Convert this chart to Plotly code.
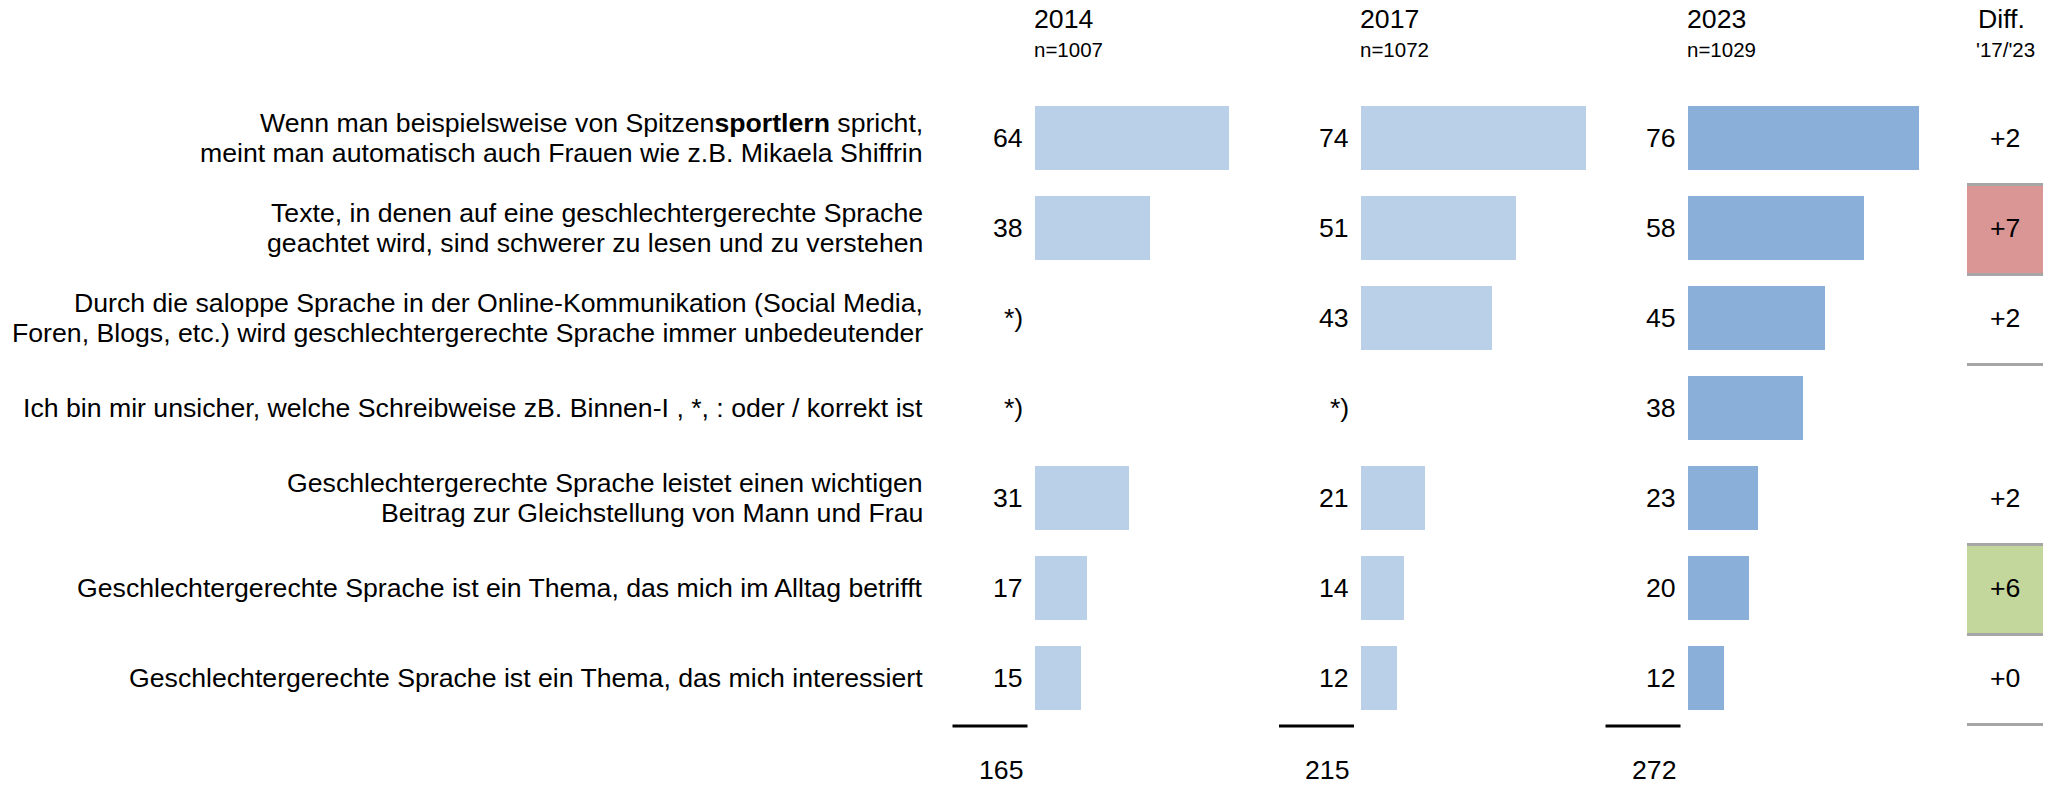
import plotly.graph_objects as go

# ---------------- data ----------------
labels = [
    "Wenn man beispielsweise von Spitzen<b>sportlern</b> spricht,<br>meint man automatisch auch Frauen wie z.B. Mikaela Shiffrin",
    "Texte, in denen auf eine geschlechtergerechte Sprache<br>geachtet wird, sind schwerer zu lesen und zu verstehen",
    "Durch die saloppe Sprache in der Online-Kommunikation (Social Media,<br>Foren, Blogs, etc.) wird geschlechtergerechte Sprache immer unbedeutender",
    "Ich bin mir unsicher, welche Schreibweise zB. Binnen-I , *, : oder / korrekt ist",
    "Geschlechtergerechte Sprache leistet einen wichtigen<br>Beitrag zur Gleichstellung von Mann und Frau",
    "Geschlechtergerechte Sprache ist ein Thema, das mich im Alltag betrifft",
    "Geschlechtergerechte Sprache ist ein Thema, das mich interessiert",
]
years = ["2014", "2017", "2023"]
sample_n = ["n=1007", "n=1072", "n=1029"]
v2014 = [64, 38, None, None, 31, 17, 15]
v2017 = [74, 51, 43, None, 21, 14, 12]
v2023 = [76, 58, 45, 38, 23, 20, 12]
totals = [165, 215, 272]
diff_text = ["+2", "+7", "+2", "", "+2", "+6", "+0"]
diff_fill = [None, "#D99694", None, None, None, "#C3D69B", None]
diff_lines = [0.5, 1.5, 2.5, 4.5, 5.5, 6.5]  # row boundaries with grey rules

# ---------------- layout constants ----------------
W, H = 2058, 785
FONT = "Liberation Sans, Arial, sans-serif"
FS = 26.67
FS_SMALL = 20.5
bar_starts = [1034.5, 1361.0, 1687.5]
px_per_unit = 3.036
axis_len = 100 * px_per_unit
row_top, row_pitch = 93, 90
n_rows = len(labels)
colors = ["#B9D0E8", "#B9D0E8", "#8AAFD8"]
series = [v2014, v2017, v2023]


def row_px(b):
    """pixel y of a row position b (row index, may be fractional)"""
    return row_top + row_pitch * (b + 0.5)


fig = go.Figure()
rows = list(range(n_rows))
for k, vals in enumerate(series):
    ax = "x" if k == 0 else f"x{k+1}"
    fig.add_trace(go.Bar(
        x=[v if v is not None else 0 for v in vals], y=rows, orientation="h",
        marker=dict(color=colors[k], line=dict(width=0)), width=64 / 90,
        xaxis=ax, yaxis="y", showlegend=False, hoverinfo="skip",
    ))

layout = dict(
    width=W, height=H, margin=dict(l=0, r=0, t=0, b=0),
    paper_bgcolor="white", plot_bgcolor="white",
    bargap=0,
    yaxis=dict(range=[n_rows - 0.5, -0.5], visible=False, fixedrange=True,
               domain=[1 - (row_top + row_pitch * n_rows) / H, 1 - row_top / H]),
)
for k in range(3):
    key = "xaxis" if k == 0 else f"xaxis{k+1}"
    d0 = bar_starts[k] / W
    layout[key] = dict(range=[0, 100], domain=[d0, d0 + axis_len / W], visible=False,
                       anchor="y", fixedrange=True)
fig.update_layout(**layout)

ann = []
shapes = []
txt = dict(family=FONT, size=FS, color="black")
# row labels (each line placed separately to control line spacing)
line_gap = 30
for i, lab in enumerate(labels):
    parts = lab.split("<br>")
    n = len(parts)
    for j, p in enumerate(parts):
        shift = -(j - (n - 1) / 2) * line_gap
        ann.append(dict(text=p, xref="paper", x=925 / W, xanchor="right", align="right",
                        yref="y", y=i, yanchor="middle", yshift=shift, showarrow=False,
                        font=txt))
# values, headers, underline, totals
for k, vals in enumerate(series):
    xr = "x" if k == 0 else f"x{k+1}"
    for i, v in enumerate(vals):
        ann.append(dict(text=str(v) if v is not None else "*)", xref=xr, x=0, xshift=-10,
                        xanchor="right", yref="y", y=i, yanchor="middle", showarrow=False,
                        font=txt))
    ann.append(dict(text=years[k], xref=xr, x=0, xshift=-3, xanchor="left",
                    yref="paper", y=1 - 19 / H, yanchor="middle", showarrow=False,
                    font=txt))
    ann.append(dict(text=sample_n[k], xref=xr, x=0, xshift=-3, xanchor="left",
                    yref="paper", y=1 - 50 / H, yanchor="middle", showarrow=False,
                    font=dict(family=FONT, size=FS_SMALL, color="black")))
    ann.append(dict(text=str(totals[k]), xref=xr, x=0, xshift=-10, xanchor="right",
                    yref="paper", y=1 - 770 / H, yanchor="middle", showarrow=False,
                    font=txt))
    shapes.append(dict(type="line", xref="paper",
                       x0=(bar_starts[k] - 82) / W, x1=(bar_starts[k] - 7) / W,
                       yref="paper", y0=1 - 726 / H, y1=1 - 726 / H,
                       line=dict(color="black", width=3)))

# diff column
dx0, dx1 = 1967 / W, 2043 / W
for i, t in enumerate(diff_text):
    if diff_fill[i]:
        shapes.append(dict(type="rect", xref="paper", x0=dx0, x1=dx1, yref="paper",
                           y0=1 - (row_px(i - 0.5) + 1) / H, y1=1 - (row_px(i + 0.5) + 2) / H,
                           fillcolor=diff_fill[i], line=dict(width=0), layer="below"))
    if t:
        ann.append(dict(text=t, xref="paper", x=2005 / W, xanchor="center",
                        yref="y", y=i, yanchor="middle", showarrow=False,
                        font=txt))
for b in diff_lines:
    yp = 1 - (row_px(b) + 1.5) / H
    shapes.append(dict(type="line", xref="paper", x0=dx0, x1=dx1, yref="paper", y0=yp, y1=yp,
                       line=dict(color="#A6A6A6", width=3)))
ann.append(dict(text="Diff.", xref="paper", x=2001 / W, xanchor="center",
                yref="paper", y=1 - 19 / H, yanchor="middle", showarrow=False,
                font=txt))
ann.append(dict(text="'17/'23", xref="paper", x=2005 / W, xanchor="center",
                yref="paper", y=1 - 50 / H, yanchor="middle", showarrow=False,
                font=dict(family=FONT, size=FS_SMALL, color="black")))

fig.update_layout(annotations=ann, shapes=shapes)
fig.write_html("out.html", config={"displayModeBar": False},
               post_script="document.body.style.margin='0';document.body.style.overflow='hidden';")
